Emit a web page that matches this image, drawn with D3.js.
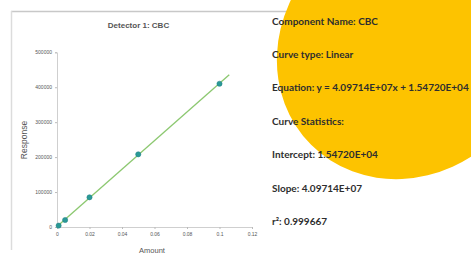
<!DOCTYPE html>
<html><head><meta charset="utf-8">
<script src="https://cdn.jsdelivr.net/npm/d3@7"></script>
<style>html,body{margin:0;padding:0;background:#fff;overflow:hidden}svg{display:block}</style>
</head><body>
<script>
const chartTitle = "Detector 1: CBC";
const xLabel = "Amount";
const yLabel = "Response";
const amounts = [0.001, 0.005, 0.02, 0.05, 0.1];
const responses = [4000, 20000, 85000, 208000, 410000];
const fitX = [0, 0.106];
const fitY = [1500, 436000];
const xTicks = [0, 0.02, 0.04, 0.06, 0.08, 0.1, 0.12];
const xTickLabels = ["0", "0.02", "0.04", "0.06", "0.08", "0.1", "0.12"];
const yTicks = [0, 100000, 200000, 300000, 400000, 500000];
const yTickLabels = ["0", "100000", "200000", "300000", "400000", "500000"];
const infoLines = [
  "Component Name: CBC",
  "Curve type: Linear",
  "Equation: y = 4.09714E+07x + 1.54720E+04",
  "Curve Statistics:",
  "Intercept: 1.54720E+04",
  "Slope: 4.09714E+07",
  "r\u00B2: 0.999667"
];

const W = 471, H = 262;
const svg = d3.select("body").append("svg").attr("width", W).attr("height", H);

// panel border
svg.append("line").attr("x1", 11).attr("x2", 300).attr("y1", 11.5).attr("y2", 11.5).attr("stroke", "#c8c8c8").attr("stroke-width", 1.5);
svg.append("line").attr("x1", 11.5).attr("x2", 11.5).attr("y1", 11).attr("y2", 250).attr("stroke", "#dcdcdc").attr("stroke-width", 1.5);

const x = d3.scaleLinear().domain([0, 0.12]).range([57, 252]);
const y = d3.scaleLinear().domain([0, 500000]).range([227, 52.3]);

const xAxis = d3.axisBottom(x).tickValues(xTicks).tickFormat((d, i) => xTickLabels[i]).tickSize(2).tickPadding(3);
const yAxis = d3.axisLeft(y).tickValues(yTicks).tickFormat((d, i) => yTickLabels[i]).tickSize(2).tickPadding(3);

const gx = svg.append("g").attr("transform", "translate(0,227)").call(xAxis);
const gy = svg.append("g").attr("transform", "translate(57,0)").call(yAxis);
[gx, gy].forEach(g => {
  g.select(".domain").attr("stroke", "#cfcfcf");
  g.selectAll(".tick line").attr("stroke", "#bbb");
  g.selectAll(".tick text").attr("fill", "#555").attr("font-size", 5).attr("font-family", "Liberation Sans, Arial, sans-serif");
});

svg.append("text").attr("x", 138.5).attr("y", 28).attr("text-anchor", "middle")
  .attr("font-family", "Liberation Sans, Arial, sans-serif").attr("font-size", 8).attr("font-weight", "bold").attr("fill", "#555").text(chartTitle);
svg.append("text").attr("x", 152).attr("y", 253).attr("text-anchor", "middle")
  .attr("font-family", "Liberation Sans, Arial, sans-serif").attr("font-size", 7.5).attr("fill", "#555").text(xLabel);
svg.append("text").attr("transform", "translate(27,140) rotate(-90)").attr("text-anchor", "middle")
  .attr("font-family", "Liberation Sans, Arial, sans-serif").attr("font-size", 8.5).attr("fill", "#555").text(yLabel);

const fit = fitX.map((v, i) => [v, fitY[i]]);
svg.append("path").datum(fit).attr("d", d3.line().x(d => x(d[0])).y(d => y(d[1])))
  .attr("stroke", "#8cc870").attr("stroke-width", 1.3).attr("fill", "none");

svg.selectAll("circle.pt").data(amounts.map((a, i) => [a, responses[i]])).enter().append("circle")
  .attr("class", "pt").attr("cx", d => x(d[0])).attr("cy", d => y(d[1])).attr("r", 2.6)
  .attr("fill", "#2a9a96").attr("stroke", "#1f7f86").attr("stroke-width", 0.5);

// yellow decorative shape
svg.append("ellipse").attr("transform", "translate(408,48) rotate(-45)")
  .attr("cx", 0).attr("cy", 0).attr("rx", 137).attr("ry", 125).attr("fill", "#fdc300");

const info = svg.append("g");
info.selectAll("text").data(infoLines).enter().append("text")
  .attr("x", 272).attr("y", (d, i) => 24.5 + i * 33.4)
  .attr("font-family", "Lato, sans-serif").attr("font-weight", "bold").attr("font-size", 10)
  .attr("fill", "#2e2e2e").text(d => d);
</script>
</body></html>
